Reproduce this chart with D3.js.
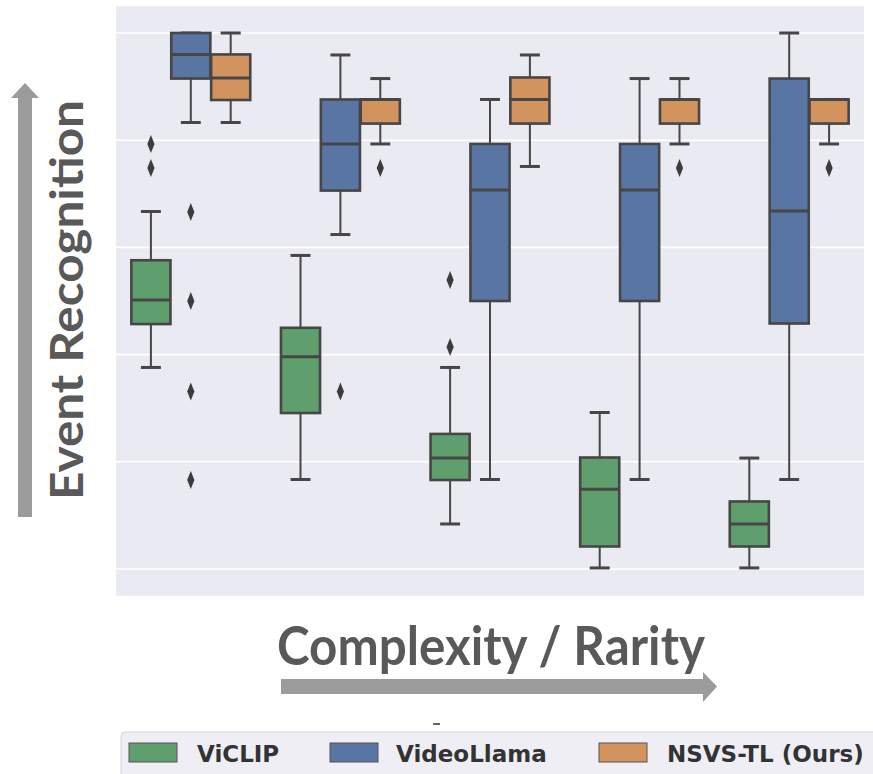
<!DOCTYPE html>
<html>
<head>
<meta charset="utf-8">
<script src="https://cdn.jsdelivr.net/npm/d3@7"></script>
<style>
  html, body { margin: 0; padding: 0; background: #fff; }
</style>
</head>
<body>
<svg id="chart" width="873" height="774"></svg>
<script>
// five levels of complexity / rarity, no tick labels in the figure
var categories = ["c1", "c2", "c3", "c4", "c5"];
var series = ["ViCLIP", "VideoLlama", "NSVS-TL (Ours)"];
var colors = ["#5f9e6d", "#5875a4", "#d2935e"];

// [lower whisker, q1, median, q3, upper whisker]
var viclip = [
  [0.376, 0.457, 0.502, 0.576, 0.667],
  [0.167, 0.291, 0.396, 0.450, 0.585],
  [0.084, 0.166, 0.207, 0.252, 0.376],
  [0.002, 0.042, 0.149, 0.208, 0.292],
  [0.002, 0.042, 0.084, 0.126, 0.207]
];
var viclipOutliers = [[0.793, 0.748], [], [0.539, 0.414], [], []];

var videollama = [
  [0.833, 0.915, 0.960, 1.000, 1.000],
  [0.624, 0.706, 0.793, 0.876, 0.959],
  [0.167, 0.500, 0.707, 0.793, 0.876],
  [0.167, 0.500, 0.707, 0.793, 0.915],
  [0.167, 0.458, 0.668, 0.915, 1.000]
];
var videollamaOutliers = [[0.666, 0.500, 0.331, 0.166], [0.331], [], [], []];

var nsvs = [
  [0.833, 0.875, 0.916, 0.960, 1.000],
  [0.793, 0.831, 0.876, 0.876, 0.915],
  [0.751, 0.831, 0.876, 0.917, 0.959],
  [0.793, 0.831, 0.876, 0.876, 0.915],
  [0.793, 0.831, 0.876, 0.876, 0.876]
];
var nsvsOutliers = [[], [0.748], [], [0.748], [0.748]];

var gridTicks = [0, 0.2, 0.4, 0.6, 0.8, 1.0];

(function() {
  var svg = d3.select("#chart");
  var lineColor = "#464646";
  var textColor = "#595959";
  var arrowColor = "#9b9b9b";

  var x = d3.scaleBand().domain(categories).range([116, 864]);
  var hue = d3.scaleBand().domain(series)
      .range([0.1 * x.bandwidth(), 0.9 * x.bandwidth()]);
  var y = d3.scaleLinear().domain([-0.05, 1.05]).range([595.8, 6.2]);

  // plot background + grid
  svg.append("rect")
      .attr("x", 116).attr("y", y(1.05))
      .attr("width", 748).attr("height", y(-0.05) - y(1.05))
      .attr("fill", "#eaeaf2");

  svg.append("g").selectAll("line")
      .data(gridTicks)
      .enter().append("line")
      .attr("x1", 116).attr("x2", 864)
      .attr("y1", function(d) { return y(d); })
      .attr("y2", function(d) { return y(d); })
      .attr("stroke", "#fff")
      .attr("stroke-width", 1.6);

  var all = [
    { name: series[0], stats: viclip, out: viclipOutliers, color: colors[0] },
    { name: series[1], stats: videollama, out: videollamaOutliers, color: colors[1] },
    { name: series[2], stats: nsvs, out: nsvsOutliers, color: colors[2] }
  ];

  var bw = hue.bandwidth() * 0.98;
  var capW = hue.bandwidth() / 2;

  all.forEach(function(s) {
    var g = svg.append("g");
    s.stats.forEach(function(st, i) {
      var cx = x(categories[i]) + hue(s.name) + hue.bandwidth() / 2;
      // whiskers
      g.append("line")
          .attr("x1", cx).attr("x2", cx)
          .attr("y1", y(st[0])).attr("y2", y(st[1]))
          .attr("stroke", lineColor).attr("stroke-width", 2);
      g.append("line")
          .attr("x1", cx).attr("x2", cx)
          .attr("y1", y(st[3])).attr("y2", y(st[4]))
          .attr("stroke", lineColor).attr("stroke-width", 2);
      // caps
      [st[0], st[4]].forEach(function(v) {
        g.append("line")
            .attr("x1", cx - capW / 2).attr("x2", cx + capW / 2)
            .attr("y1", y(v)).attr("y2", y(v))
            .attr("stroke", lineColor).attr("stroke-width", 3);
      });
      // box
      g.append("rect")
          .attr("x", cx - bw / 2).attr("y", y(st[3]))
          .attr("width", bw).attr("height", y(st[1]) - y(st[3]))
          .attr("fill", s.color)
          .attr("stroke", lineColor).attr("stroke-width", 2.6);
      // median
      g.append("line")
          .attr("x1", cx - bw / 2).attr("x2", cx + bw / 2)
          .attr("y1", y(st[2])).attr("y2", y(st[2]))
          .attr("stroke", lineColor).attr("stroke-width", 3);
      // fliers
      g.selectAll(null)
          .data(s.out[i])
          .enter().append("path")
          .attr("d", "M0,-9L3.6,0L0,9L-3.6,0Z")
          .attr("transform", function(v) { return "translate(" + cx + "," + y(v) + ")"; })
          .attr("fill", "#3c3c3c");
    });
  });

  // y label + arrow
  svg.append("rect")
      .attr("x", 18).attr("y", 97).attr("width", 14).attr("height", 420)
      .attr("fill", arrowColor);
  svg.append("path")
      .attr("d", "M25,83L39,98L11,98Z")
      .attr("fill", arrowColor);
  svg.append("text")
      .attr("transform", "translate(83,300) rotate(-90)")
      .attr("text-anchor", "middle")
      .attr("textLength", 400)
      .attr("lengthAdjust", "spacingAndGlyphs")
      .style("font-family", "Lato, 'Open Sans', sans-serif")
      .style("font-weight", 700)
      .style("font-size", "46px")
      .attr("fill", textColor)
      .text("Event Recognition");

  // x label + arrow
  svg.append("text")
      .attr("x", 491).attr("y", 665)
      .attr("text-anchor", "middle")
      .attr("textLength", 428)
      .attr("lengthAdjust", "spacingAndGlyphs")
      .style("font-family", "Lato, 'Open Sans', sans-serif")
      .style("font-weight", 700)
      .style("font-size", "54px")
      .attr("fill", textColor)
      .text("Complexity / Rarity");
  svg.append("rect")
      .attr("x", 281).attr("y", 679).attr("width", 423).attr("height", 15)
      .attr("fill", arrowColor);
  svg.append("path")
      .attr("d", "M717,686.5L703,672L703,702Z")
      .attr("fill", arrowColor);

  // leftover tick mark
  svg.append("line")
      .attr("x1", 433).attr("x2", 440).attr("y1", 724).attr("y2", 724)
      .attr("stroke", "#333").attr("stroke-width", 1.5);

  // legend
  var legend = svg.append("g");
  legend.append("rect")
      .attr("x", 121).attr("y", 732).attr("width", 770).attr("height", 60)
      .attr("rx", 4)
      .attr("fill", "#eeeef4")
      .attr("stroke", "#d6d6d6").attr("stroke-width", 1);
  var patchX = [129, 330, 599];
  var textX = [197, 396, 667];
  series.forEach(function(name, i) {
    legend.append("rect")
        .attr("x", patchX[i]).attr("y", 743).attr("width", 48).attr("height", 19)
        .attr("fill", colors[i])
        .attr("stroke", "#555").attr("stroke-width", 1);
    legend.append("text")
        .attr("x", textX[i]).attr("y", 762)
        .style("font-family", "'DejaVu Sans', sans-serif")
        .style("font-weight", 700)
        .style("font-size", "23px")
        .attr("fill", "#333")
        .text(name);
  });
})();
</script>
</body>
</html>
